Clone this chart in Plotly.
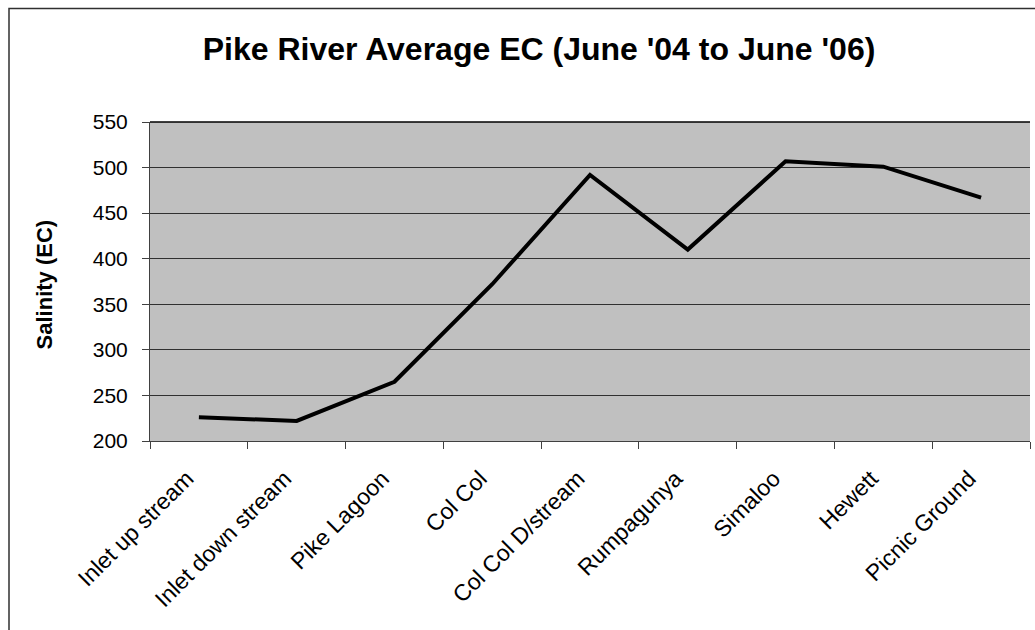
import plotly.graph_objects as go

sites = ["Inlet up stream", "Inlet down stream", "Pike Lagoon", "Col Col",
         "Col Col D/stream", "Rumpagunya", "Simaloo", "Hewett", "Picnic Ground"]
ec = [226, 222, 265, 372, 492, 410, 507, 501, 467]
y_ticks = [200, 250, 300, 350, 400, 450, 500, 550]

W, H = 1035, 630
L, R, T, B = 150, 5, 121.5, 189.3
pw = W - L - R
ph = H - T - B

def px_x(p):
    return (p - L) / pw

def px_y(p):
    return (H - B - p) / ph

FONT = "Liberation Sans, Arial, sans-serif"

fig = go.Figure()
fig.add_trace(go.Scatter(
    x=sites, y=ec, mode="lines",
    line=dict(color="black", width=4),
    showlegend=False, hoverinfo="x+y",
))

fig.update_layout(
    width=W, height=H,
    margin=dict(l=L, r=R, t=T, b=B, pad=0),
    paper_bgcolor="white",
    plot_bgcolor="#C0C0C0",
    font=dict(family=FONT, size=21, color="black"),
    title=dict(
        text="<b>Pike River Average EC (June '04 to June '06)</b>",
        font=dict(family=FONT, size=32, color="black"),
        x=539 / W, xref="container", xanchor="center",
        y=1 - 49 / H, yref="container", yanchor="middle",
    ),
    xaxis=dict(
        type="category",
        range=[-0.5, len(sites) - 0.5],
        showgrid=False,
        showline=True, linecolor="#404040", linewidth=1,
        ticks="outside", ticklen=7, tickcolor="#404040", tickwidth=1,
        tickson="boundaries",
        tickangle=-45,
        tickfont=dict(family=FONT, size=23, color="black"),
        ticklabelstandoff=14,
        ticklabelshift=-12,
        zeroline=False,
    ),
    yaxis=dict(
        range=[200, 550],
        tickvals=y_ticks,
        ticktext=[str(v) for v in y_ticks],
        showgrid=True, gridcolor="#303030", gridwidth=1,
        showline=True, linecolor="#404040", linewidth=1,
        ticks="outside", ticklen=7, tickcolor="#404040", tickwidth=1,
        tickfont=dict(family=FONT, size=21, color="black"),
        ticklabelstandoff=10,
        zeroline=False,
    ),
    shapes=[
        dict(type="line", xref="paper", yref="paper", x0=0, x1=1, y0=1, y1=1,
             line=dict(color="black", width=1.5)),
        dict(type="rect", xref="paper", yref="paper",
             x0=px_x(9), x1=px_x(1045), y0=px_y(650), y1=px_y(8),
             line=dict(color="#303030", width=1.5), fillcolor="rgba(0,0,0,0)",
             layer="below"),
    ],
    annotations=[
        dict(text="<b>Salinity (EC)</b>", textangle=-90,
             xref="paper", yref="paper", x=px_x(44), y=px_y(284),
             xanchor="center", yanchor="middle", showarrow=False,
             font=dict(family=FONT, size=22, color="black")),
    ],
)

fig.write_html("out.html")
